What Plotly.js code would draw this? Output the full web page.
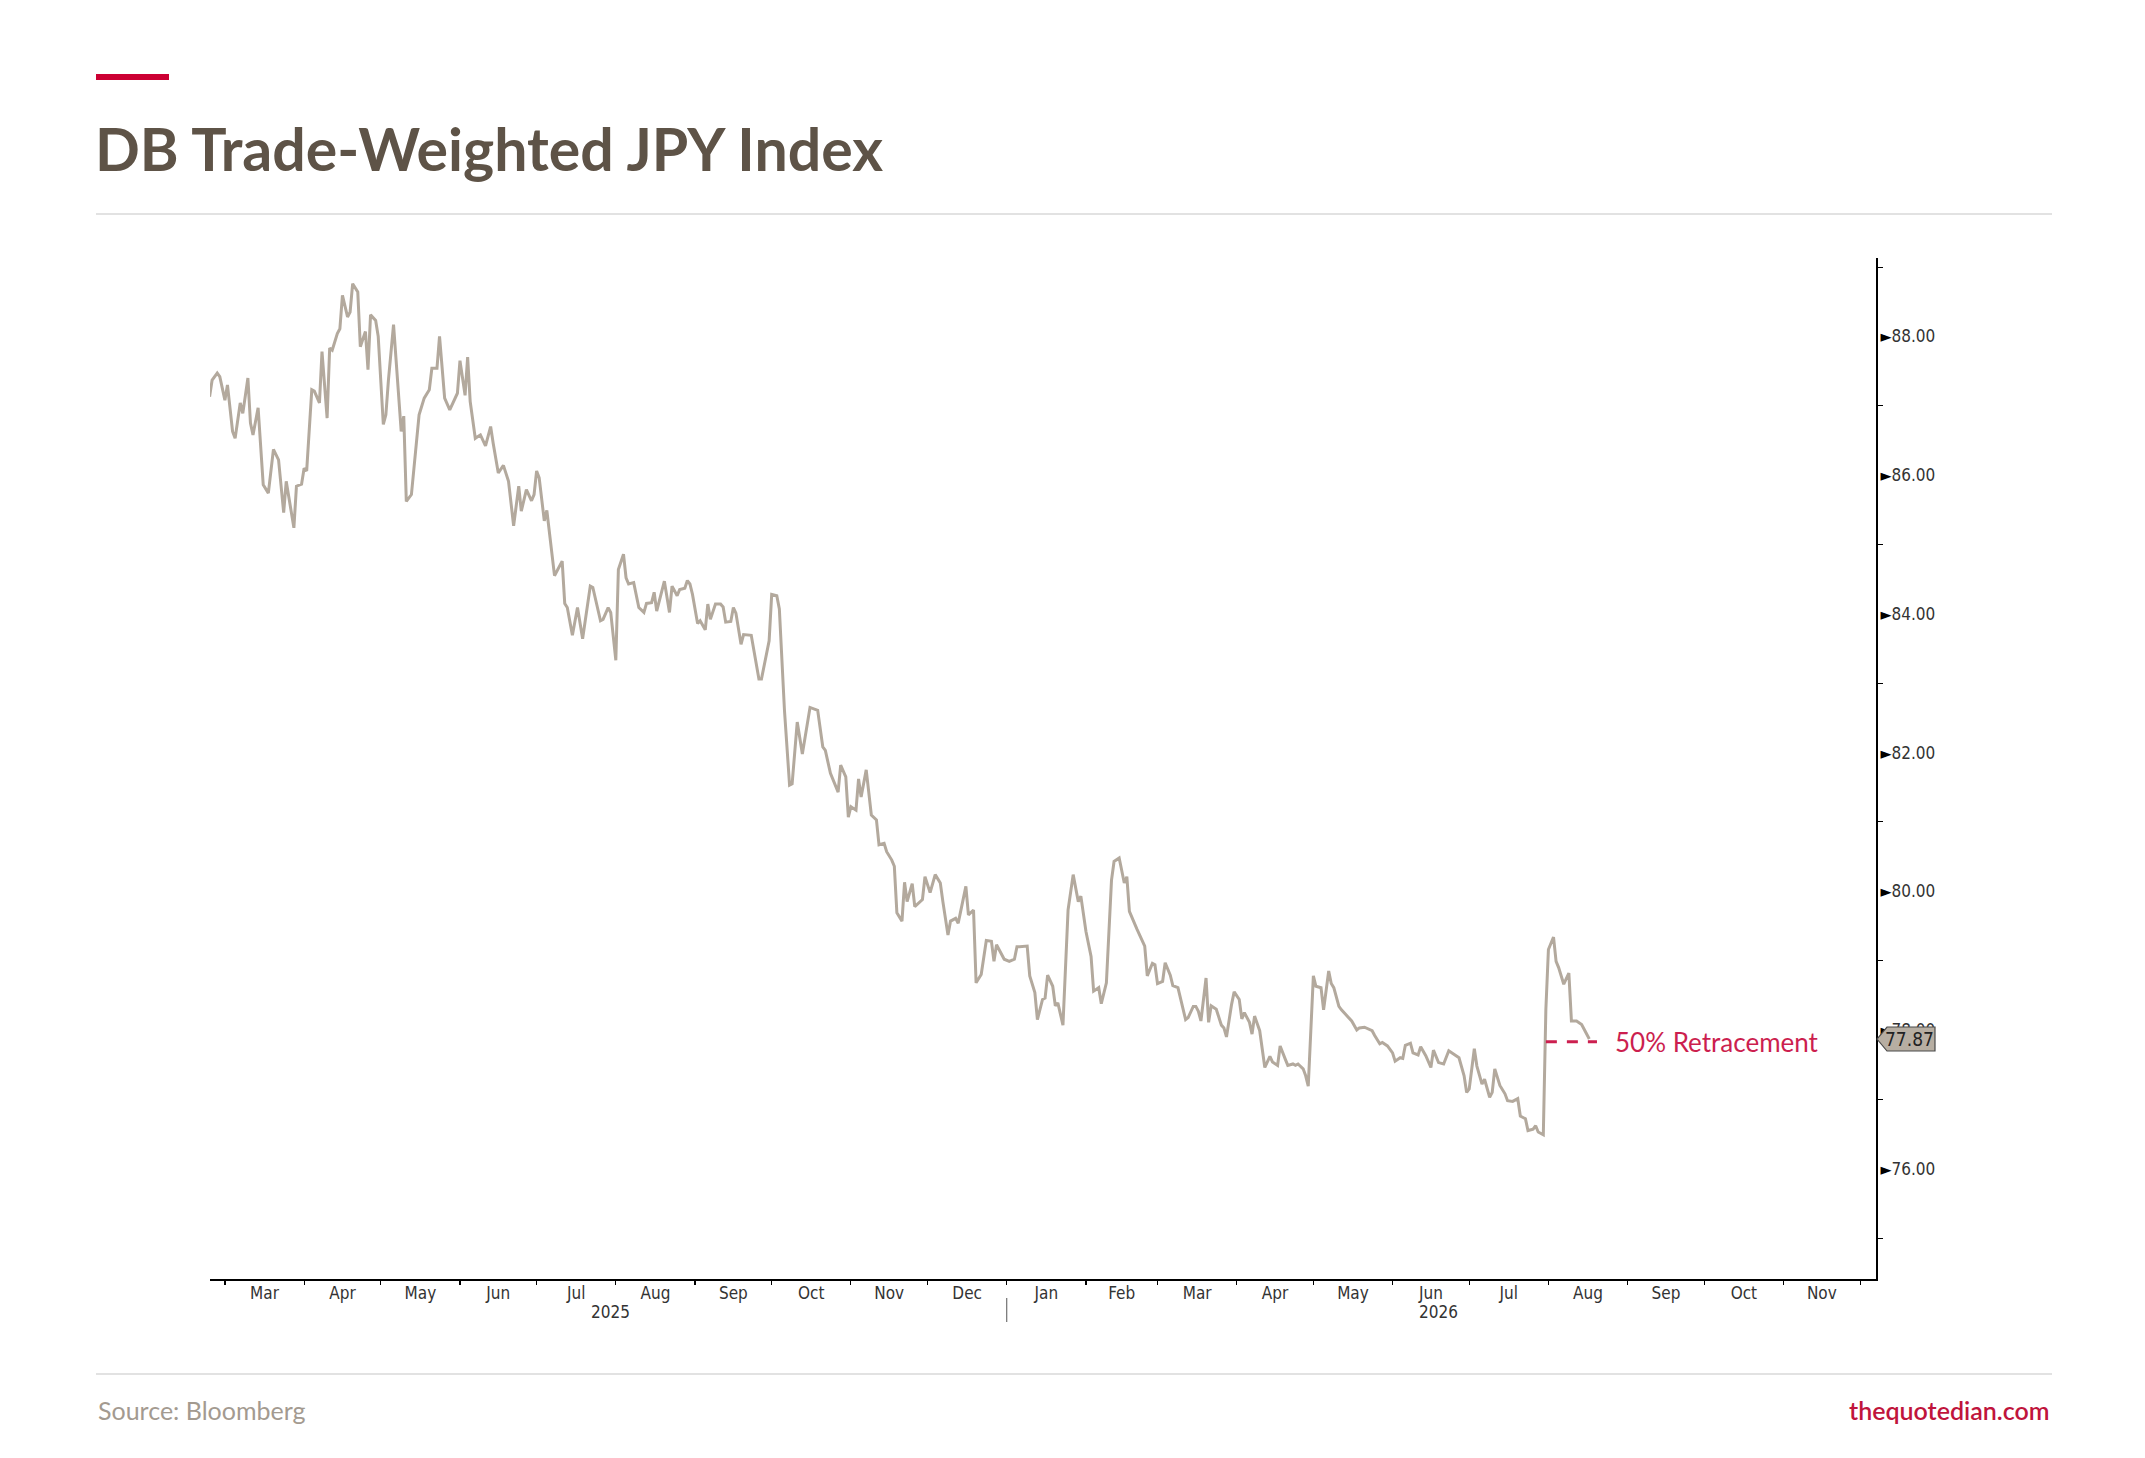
<!DOCTYPE html>
<html>
<head>
<meta charset="utf-8">
<title>DB Trade-Weighted JPY Index</title>
<script src="https://cdn.plot.ly/plotly-3.0.1.min.js"></script>
<style>
  html, body { margin: 0; padding: 0; background: #fff; }
  #chart { width: 2145px; height: 1458px; }
</style>
</head>
<body>
<div id="chart"></div>
<script>
// DB trade-weighted JPY index
const dates2025 = [
  '2025-02-23','2025-02-24','2025-02-26','2025-02-27','2025-03-01','2025-03-02','2025-03-04','2025-03-05','2025-03-07','2025-03-08',
  '2025-03-10','2025-03-11','2025-03-12','2025-03-14','2025-03-16','2025-03-18','2025-03-20','2025-03-22','2025-03-24','2025-03-25',
  '2025-03-28','2025-03-29','2025-03-31','2025-04-01','2025-04-02','2025-04-04','2025-04-05','2025-04-07','2025-04-08','2025-04-10',
  '2025-04-11','2025-04-12','2025-04-14','2025-04-15','2025-04-16','2025-04-18','2025-04-19','2025-04-20','2025-04-22','2025-04-23',
  '2025-04-25','2025-04-26','2025-04-27','2025-04-29','2025-04-30','2025-05-02','2025-05-03','2025-05-04','2025-05-06','2025-05-07',
  '2025-05-09','2025-05-10','2025-05-11','2025-05-13','2025-05-16','2025-05-18','2025-05-20','2025-05-21','2025-05-23','2025-05-24',
  '2025-05-26','2025-05-28','2025-05-31','2025-06-01','2025-06-03','2025-06-04','2025-06-05','2025-06-07','2025-06-09','2025-06-11',
  '2025-06-13','2025-06-14','2025-06-16','2025-06-18','2025-06-20','2025-06-22','2025-06-24','2025-06-25','2025-06-27','2025-06-29',
  '2025-06-30','2025-07-01','2025-07-02','2025-07-04','2025-07-05','2025-07-08','2025-07-10','2025-07-11','2025-07-12','2025-07-13',
  '2025-07-15','2025-07-17','2025-07-19','2025-07-21','2025-07-22','2025-07-23','2025-07-26','2025-07-27','2025-07-29','2025-07-30',
  '2025-08-01','2025-08-02','2025-08-04','2025-08-05','2025-08-06','2025-08-08','2025-08-10','2025-08-12','2025-08-13','2025-08-15',
  '2025-08-16','2025-08-17','2025-08-20','2025-08-22','2025-08-23','2025-08-25','2025-08-26','2025-08-28','2025-08-29','2025-08-30',
  '2025-08-31','2025-09-02','2025-09-03','2025-09-05','2025-09-06','2025-09-07','2025-09-09','2025-09-11','2025-09-12','2025-09-13',
  '2025-09-15','2025-09-16','2025-09-17','2025-09-19','2025-09-20','2025-09-23','2025-09-25','2025-09-26','2025-09-27','2025-09-30',
  '2025-10-01','2025-10-03','2025-10-04','2025-10-06','2025-10-08','2025-10-09','2025-10-11','2025-10-13','2025-10-16','2025-10-19',
  '2025-10-21','2025-10-22','2025-10-24','2025-10-27','2025-10-28','2025-10-30','2025-10-31','2025-11-01','2025-11-03','2025-11-04',
  '2025-11-05','2025-11-07','2025-11-09','2025-11-11','2025-11-12','2025-11-14','2025-11-15','2025-11-17','2025-11-18','2025-11-19',
  '2025-11-21','2025-11-22','2025-11-23','2025-11-25','2025-11-26','2025-11-29','2025-11-30','2025-12-02','2025-12-04','2025-12-06',
  '2025-12-07','2025-12-09','2025-12-10','2025-12-12','2025-12-13','2025-12-16','2025-12-17','2025-12-19','2025-12-20','2025-12-22',
  '2025-12-24','2025-12-26','2025-12-27','2025-12-28','2025-12-31'
];
const values2025 = [
  87.13, 87.37, 87.47, 87.42, 87.08, 87.30, 86.63, 86.53, 87.04, 86.89,
  87.40, 86.75, 86.58, 86.97, 85.86, 85.74, 86.37, 86.22, 85.46, 85.91,
  85.24, 85.84, 85.87, 86.10, 86.06, 87.23, 87.21, 87.04, 87.78, 86.82,
  87.83, 87.80, 88.04, 88.11, 88.59, 88.28, 88.35, 88.76, 88.64, 87.85,
  88.07, 87.52, 88.31, 88.23, 88.00, 86.73, 86.87, 87.37, 88.17, 87.68,
  86.63, 86.85, 85.62, 85.72, 86.87, 87.11, 87.23, 87.54, 87.54, 88.00,
  87.11, 86.94, 87.18, 87.65, 87.15, 87.70, 87.06, 86.53, 86.58, 86.42,
  86.70, 86.46, 86.03, 86.14, 85.91, 85.27, 85.84, 85.48, 85.79, 85.63,
  85.72, 86.06, 85.96, 85.34, 85.49, 84.55, 84.69, 84.76, 84.15, 84.09,
  83.69, 84.09, 83.64, 84.19, 84.40, 84.38, 83.90, 83.92, 84.09, 84.02,
  83.33, 84.64, 84.86, 84.52, 84.43, 84.45, 84.09, 84.02, 84.15, 84.16,
  84.31, 84.04, 84.47, 84.02, 84.40, 84.26, 84.35, 84.37, 84.48, 84.43,
  84.28, 83.86, 83.90, 83.77, 84.14, 83.92, 84.14, 84.14, 84.10, 83.88,
  83.89, 84.09, 84.01, 83.56, 83.70, 83.69, 83.23, 83.06, 83.06, 83.61,
  84.28, 84.26, 84.07, 82.61, 81.53, 81.55, 82.44, 81.98, 82.65, 82.61,
  82.08, 82.03, 81.70, 81.43, 81.82, 81.65, 81.07, 81.22, 81.17, 81.62,
  81.36, 81.75, 81.10, 81.03, 80.67, 80.69, 80.57, 80.45, 80.36, 79.69,
  79.57, 80.13, 79.85, 80.11, 79.78, 79.88, 80.21, 79.98, 80.24, 80.12,
  79.85, 79.37, 79.57, 79.61, 79.54, 80.07, 79.66, 79.73, 78.68, 78.80,
  79.29, 79.28, 78.99, 79.23, 79.02
];
const dates2026 = [
  '2026-01-02','2026-01-04','2026-01-05','2026-01-06','2026-01-09','2026-01-10','2026-01-12','2026-01-13','2026-01-15','2026-01-16',
  '2026-01-17','2026-01-19','2026-01-20','2026-01-21','2026-01-23','2026-01-25','2026-01-27','2026-01-29','2026-01-30','2026-02-01',
  '2026-02-03','2026-02-04','2026-02-06','2026-02-07','2026-02-09','2026-02-11','2026-02-12','2026-02-14','2026-02-16','2026-02-17',
  '2026-02-18','2026-02-21','2026-02-24','2026-02-25','2026-02-27','2026-02-28','2026-03-01','2026-03-03','2026-03-04','2026-03-06',
  '2026-03-07','2026-03-09','2026-03-10','2026-03-12','2026-03-13','2026-03-15','2026-03-16','2026-03-17','2026-03-18','2026-03-20',
  '2026-03-21','2026-03-22','2026-03-24','2026-03-26','2026-03-27','2026-03-28','2026-03-30','2026-03-31','2026-04-02','2026-04-03',
  '2026-04-04','2026-04-06','2026-04-07','2026-04-08','2026-04-10','2026-04-12','2026-04-14','2026-04-15','2026-04-17','2026-04-18',
  '2026-04-20','2026-04-21','2026-04-23','2026-04-24','2026-04-25','2026-04-27','2026-04-28','2026-04-29','2026-05-01','2026-05-02',
  '2026-05-04','2026-05-05','2026-05-07','2026-05-08','2026-05-09','2026-05-11','2026-05-12','2026-05-14','2026-05-16','2026-05-18',
  '2026-05-19','2026-05-21','2026-05-24','2026-05-25','2026-05-27','2026-05-28','2026-05-30','2026-06-01','2026-06-02','2026-06-04',
  '2026-06-05','2026-06-06','2026-06-08','2026-06-09','2026-06-11','2026-06-12','2026-06-14','2026-06-16','2026-06-17','2026-06-19',
  '2026-06-21','2026-06-23','2026-06-25','2026-06-27','2026-06-29','2026-06-30','2026-07-01','2026-07-03','2026-07-04','2026-07-06',
  '2026-07-07','2026-07-09','2026-07-10','2026-07-11','2026-07-13','2026-07-15','2026-07-16','2026-07-18','2026-07-20','2026-07-21',
  '2026-07-23','2026-07-24','2026-07-26','2026-07-27','2026-07-28','2026-07-30','2026-07-31','2026-08-01','2026-08-03','2026-08-04',
  '2026-08-05','2026-08-07','2026-08-09','2026-08-10','2026-08-12','2026-08-14','2026-08-17'
];
const values2026 = [
  78.99, 79.02, 79.20, 79.20, 79.21, 78.78, 78.54, 78.15, 78.44, 78.46,
  78.79, 78.63, 78.35, 78.39, 78.07, 79.73, 80.24, 79.85, 79.93, 79.42,
  79.06, 78.56, 78.61, 78.38, 78.68, 80.16, 80.43, 80.48, 80.12, 80.21,
  79.71, 79.45, 79.21, 78.78, 78.96, 78.94, 78.67, 78.70, 78.97, 78.79,
  78.64, 78.61, 78.46, 78.15, 78.18, 78.34, 78.34, 78.27, 78.13, 78.75,
  78.11, 78.35, 78.30, 78.07, 78.03, 77.90, 78.37, 78.55, 78.44, 78.16,
  78.25, 78.11, 77.94, 78.20, 77.99, 77.46, 77.62, 77.54, 77.49, 77.77,
  77.58, 77.49, 77.51, 77.49, 77.51, 77.44, 77.34, 77.19, 78.78, 78.63,
  78.61, 78.29, 78.85, 78.67, 78.61, 78.34, 78.29, 78.21, 78.13, 78.00,
  78.03, 78.04, 77.99, 77.92, 77.80, 77.82, 77.77, 77.67, 77.55, 77.60,
  77.59, 77.78, 77.81, 77.67, 77.64, 77.76, 77.63, 77.46, 77.71, 77.53,
  77.51, 77.70, 77.65, 77.60, 77.34, 77.10, 77.15, 77.73, 77.48, 77.22,
  77.29, 77.03, 77.10, 77.44, 77.20, 77.08, 76.98, 76.97, 77.01, 76.76,
  76.72, 76.55, 76.57, 76.62, 76.53, 76.49, 78.30, 79.16, 79.34, 78.99,
  78.90, 78.66, 78.82, 78.13, 78.13, 78.08, 77.87
];

const yTicks = [76, 78, 80, 82, 84, 86, 88];
const yMinorTicks = [75, 77, 79, 81, 83, 85, 87, 89];
const yRange = [74.41, 89.13];
const xRange = ['2025-02-23 04:00', '2026-12-07 05:00'];
const yearLabels = ['2025', '2026'];
const yearLabelDates = ['2025-07-30', '2026-06-19'];
const yearBreak = '2026-01-01';

const retraceLevel = 77.83;
const retraceFrom = '2026-07-31';
const retraceTo = '2026-08-20';
const retraceLabel = '50% Retracement';

const W = 2145, H = 1458;
const plotL = 210, plotR = 1876, plotT = 258, plotB = 1279;
const px = x => (x - plotL) / (plotR - plotL);
const py = y => (plotB - y) / (plotB - plotT);
const unitsPerPx = (yRange[1] - yRange[0]) / (plotB - plotT);

const BBG_FONT = '"DejaVu Sans Condensed", "Liberation Sans Narrow", "DejaVu Sans", sans-serif';
const BRAND_FONT = 'Lato, "Open Sans", Roboto, sans-serif';
const CRIMSON = '#cc1f4f';

const dates = dates2025.concat(dates2026);
const values = values2025.concat(values2026);
const lastValue = values[values.length - 1];

const trace = {
  type: 'scatter',
  mode: 'lines',
  x: dates,
  y: values,
  line: { color: '#b3a99d', width: 3 },
  hoverinfo: 'skip'
};

const tickText = yTicks.map(v => '<span style="font-size:16px;color:#000">►</span>' + v.toFixed(2));

// last-price tag: a box with a chevron pointing at the axis
const tagHalf = 12 * unitsPerPx;
const tagTip = px(1877), tagBody = px(1887), tagEnd = px(1935);
const tagPath = `M ${tagTip},${lastValue} L ${tagBody},${lastValue + tagHalf} L ${tagEnd},${lastValue + tagHalf} ` +
  `L ${tagEnd},${lastValue - tagHalf} L ${tagBody},${lastValue - tagHalf} Z`;

const layout = {
  width: W,
  height: H,
  paper_bgcolor: '#ffffff',
  plot_bgcolor: '#ffffff',
  margin: { l: plotL, r: W - plotR, t: plotT, b: H - plotB, pad: 0 },
  showlegend: false,
  title: {
    text: 'DB Trade-Weighted JPY Index',
    font: { family: BRAND_FONT, size: 59, color: '#5e5347', weight: 700 },
    xref: 'container', x: 95 / W, xanchor: 'left',
    yref: 'container', y: 1 - 150 / H, yanchor: 'middle'
  },
  xaxis: {
    type: 'date',
    range: xRange,
    dtick: 'M1',
    tick0: '2025-03-01',
    tickformat: '%b',
    ticklabelmode: 'period',
    ticks: 'outside',
    ticklen: 4,
    tickwidth: 1.2,
    tickcolor: '#000',
    ticklabelstandoff: -6,
    showline: true,
    linecolor: '#000',
    linewidth: 1.5,
    showgrid: false,
    zeroline: false,
    tickfont: { family: BBG_FONT, size: 17, color: '#333' },
    fixedrange: true
  },
  yaxis: {
    side: 'right',
    range: yRange,
    tickmode: 'array',
    tickvals: yTicks,
    ticktext: tickText,
    ticks: '',
    showline: true,
    linecolor: '#000',
    linewidth: 2,
    showgrid: false,
    zeroline: false,
    ticklabelstandoff: -1,
    tickfont: { family: BBG_FONT, size: 17, color: '#333' },
    minor: {
      tickmode: 'array',
      tickvals: yMinorTicks,
      ticks: 'outside',
      ticklen: 5,
      tickwidth: 1,
      tickcolor: '#000',
      showgrid: false
    },
    fixedrange: true
  },
  shapes: [
    { type: 'rect', xref: 'paper', yref: 'paper', x0: px(96), x1: px(169), y0: py(80), y1: py(74),
      fillcolor: '#cc0033', line: { width: 0 } },
    { type: 'line', xref: 'paper', yref: 'paper', x0: px(96), x1: px(2052), y0: py(214), y1: py(214),
      line: { color: '#d9d9d9', width: 1.5 } },
    { type: 'line', xref: 'paper', yref: 'paper', x0: px(96), x1: px(2052), y0: py(1374), y1: py(1374),
      line: { color: '#d9d9d9', width: 1.5 } },
    { type: 'line', xref: 'x', yref: 'paper', x0: yearBreak, x1: yearBreak, y0: py(1298), y1: py(1322),
      line: { color: '#555', width: 1 } },
    { type: 'line', xref: 'x', yref: 'y', x0: retraceFrom, x1: retraceTo, y0: retraceLevel, y1: retraceLevel,
      line: { color: CRIMSON, width: 3, dash: '11px,10px' } },
    { type: 'path', xref: 'paper', yref: 'y', path: tagPath, layer: 'above',
      fillcolor: '#b7aea2', line: { color: '#4a4a4a', width: 1.2 } }
  ],
  annotations: [
    ...yearLabels.map((t, i) => ({
      text: t, xref: 'x', x: yearLabelDates[i], yref: 'paper', y: py(1312),
      yanchor: 'middle', showarrow: false,
      font: { family: BBG_FONT, size: 17, color: '#333' }
    })),
    {
      text: retraceLabel, xref: 'x', x: retraceTo, xshift: 16, xanchor: 'left',
      yref: 'y', y: retraceLevel, yanchor: 'middle', showarrow: false,
      font: { family: BRAND_FONT, size: 26, color: CRIMSON }
    },
    {
      text: lastValue.toFixed(2), xref: 'paper', x: (tagBody + tagEnd) / 2 - 0.001, xanchor: 'center',
      yref: 'y', y: lastValue, yanchor: 'middle', showarrow: false,
      font: { family: BBG_FONT, size: 19, color: '#222' }
    },
    {
      text: 'Source: Bloomberg', xref: 'paper', x: px(96), xanchor: 'left',
      yref: 'paper', y: py(1410), yanchor: 'middle', showarrow: false,
      font: { family: BRAND_FONT, size: 25, color: '#a39a90' }
    },
    {
      text: 'thequotedian.com', xref: 'paper', x: px(2052), xanchor: 'right',
      yref: 'paper', y: py(1410), yanchor: 'middle', showarrow: false,
      font: { family: BRAND_FONT, size: 25, color: '#c0143c', weight: 600 }
    }
  ]
};

Plotly.newPlot('chart', [trace], layout, { staticPlot: true, displayModeBar: false });
</script>
</body>
</html>
